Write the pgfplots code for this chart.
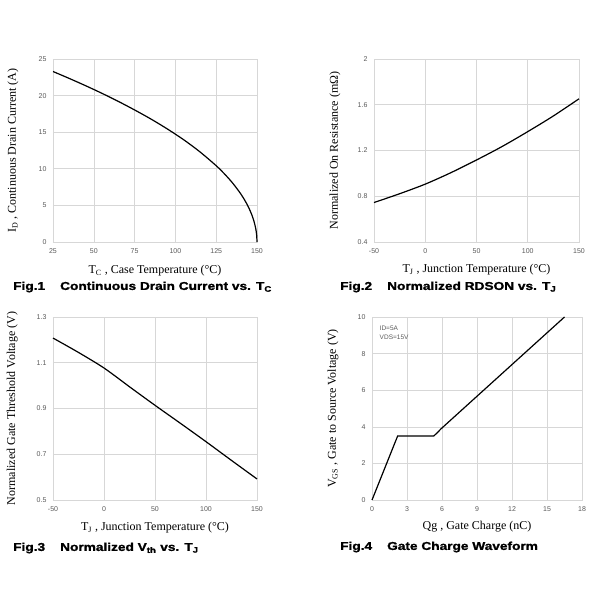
\documentclass[border=0pt]{standalone}
\usepackage{pgfplots}
\pgfplotsset{compat=1.18}
\usepackage{graphicx}
\usepackage{fontspec}
\setmainfont{Liberation Serif}
\setsansfont{Liberation Sans}
\newfontfamily\capfont[FakeBold=1.3]{Liberation Sans Bold}
\definecolor{gridc}{RGB}{215,215,215}
\definecolor{tickc}{RGB}{90,90,90}
\newcommand{\figcap}[1]{\scalebox{1.2}[1]{\capfont\fontsize{11.4}{12}\selectfont #1}}
\pgfplotsset{
  chart/.style={
    scale only axis,
    anchor=south west,
    axis line style={gridc, line width=0.7pt},
    grid=major,
    grid style={gridc, line width=0.6pt},
    major tick length=0pt,
    tick label style={font=\sffamily\fontsize{7}{7}\selectfont, text=tickc},
    /pgf/number format/assume math mode=true,
    label style={font=\fontsize{12}{13}\selectfont},
    xticklabel style={yshift=-3pt},
    yticklabel style={xshift=-3pt},
    clip=false,
  },
  curve/.style={black, line width=1.2pt, smooth, no marks},
}
\begin{document}
\begin{tikzpicture}[x=1pt,y=1pt]
\useasboundingbox[fill=white] (0,0) rectangle (600,600);

% Fig 1
\begin{axis}[chart, at={(53pt,358pt)}, width=204pt, height=183pt,
  xmin=25, xmax=150, ymin=0, ymax=25,
  xtick={25,50,75,100,125,150}, ytick={0,5,10,15,20,25},
  xlabel={T\textsubscript{C} , Case Temperature (°C)},
  ylabel={I\textsubscript{D} , Continuous Drain Current (A)},
  xlabel style={at={(axis description cs:0.5,-0.155)}, anchor=center},
  ylabel style={at={(axis description cs:-0.196,0.5)}, anchor=center, rotate=0},
]
\addplot[curve] coordinates {
(25,23.29) (35,22.34) (45,21.35) (55,20.31) (65,19.21) (75,18.04) (85,16.80)
(95,15.45) (105,13.98) (115,12.32) (125,10.42) (130,9.32) (135,8.07) (140,6.59)
(143,5.51) (145,4.66) (147,3.61) (148,2.95) (149,2.08) (149.5,1.47) (149.8,0.93) (150,0)};
\end{axis}

% Fig 2
\begin{axis}[chart, at={(374pt,358pt)}, width=205pt, height=183pt,
  xmin=-50, xmax=150, ymin=0.4, ymax=2,
  xtick={-50,0,50,100,150}, ytick={0.4,0.8,1.2,1.6,2},
  yticklabel style={/pgf/number format/fixed},
  xlabel={T\textsubscript{J} , Junction Temperature (°C)},
  ylabel={Normalized On Resistance (mΩ)},
  xlabel style={at={(axis description cs:0.5,-0.15)}, anchor=center},
  ylabel style={at={(axis description cs:-0.19,0.5)}, anchor=center, rotate=0},
]
\addplot[curve] coordinates {
(-50,0.745) (-25,0.822) (0,0.906) (25,1.006) (50,1.117) (75,1.235) (100,1.365) (125,1.502) (150,1.652)};
\end{axis}

% Fig 3
\begin{axis}[chart, at={(53pt,100pt)}, width=204pt, height=183pt,
  xmin=-50, xmax=150, ymin=0.5, ymax=1.3,
  xtick={-50,0,50,100,150}, ytick={0.5,0.7,0.9,1.1,1.3},
  xlabel={T\textsubscript{J} , Junction Temperature (°C)},
  ylabel={Normalized Gate Threshold Voltage (V)},
  xlabel style={at={(axis description cs:0.5,-0.153)}, anchor=center},
  ylabel style={at={(axis description cs:-0.2,0.5)}, anchor=center, rotate=0},
]
\addplot[curve] coordinates {
(-50,1.208) (-25,1.145) (0,1.077) (25,0.995) (50,0.914) (75,0.835) (100,0.755) (125,0.673) (150,0.592)};
\end{axis}

% Fig 4
\begin{axis}[chart, at={(372pt,100pt)}, width=210pt, height=183pt,
  xmin=0, xmax=18, ymin=0, ymax=10,
  xtick={0,3,6,9,12,15,18}, ytick={0,2,4,6,8,10},
  xlabel={Qg , Gate Charge (nC)},
  ylabel={V\textsubscript{GS} , Gate to Source Voltage (V)},
  xlabel style={at={(axis description cs:0.5,-0.148)}, anchor=center},
  ylabel style={at={(axis description cs:-0.186,0.5)}, anchor=center, rotate=0},
]
\addplot[black, line width=1.2pt, no marks] coordinates {
(0,0) (2.2,3.5) (5.3,3.5) (5.6,3.68) (5.9,3.88) (16.5,10)};
\node[anchor=north west, font=\sffamily\fontsize{6.5}{9}\selectfont, text=tickc, align=left]
  at (rel axis cs:0.02,0.97) {ID=5A\\VDS=15V};
\end{axis}

% captions
\node[anchor=west, inner sep=0pt] at (13,313) {\figcap{Fig.1\hspace{1.1em}Continuous Drain Current vs. T\textsubscript{C}}};
\node[anchor=west, inner sep=0pt] at (340,313) {\figcap{Fig.2\hspace{1.1em}Normalized RDSON vs. T\textsubscript{J}}};
\node[anchor=west, inner sep=0pt] at (13,52) {\figcap{Fig.3\hspace{1.1em}Normalized V\textsubscript{th} vs. T\textsubscript{J}}};
\node[anchor=west, inner sep=0pt] at (340,53) {\figcap{Fig.4\hspace{1.1em}Gate Charge Waveform}};
\end{tikzpicture}
\end{document}
